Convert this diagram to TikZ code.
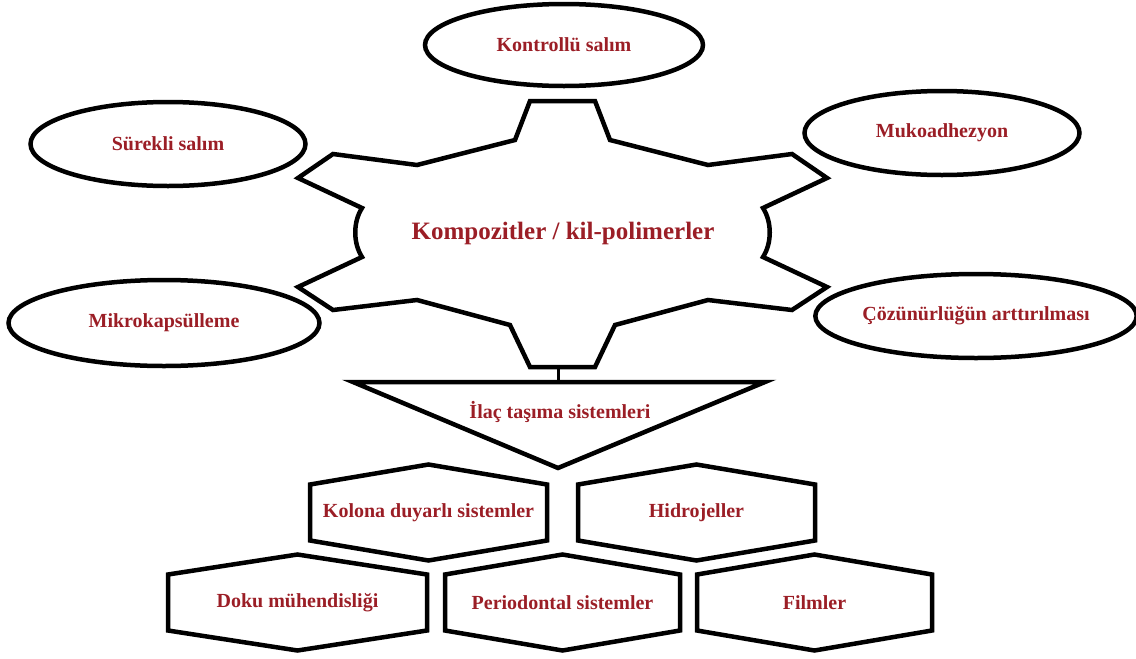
\documentclass[tikz,border=0pt]{standalone}
\usepackage{fontspec}
\setmainfont{Liberation Serif}
\usetikzlibrary{shapes.geometric}
\definecolor{labelred}{RGB}{155,30,38}

\begin{document}
\begin{tikzpicture}[x=1pt,y=-1pt]
	\tikzset{bubble/.style = {shape=ellipse,draw,line width=4.5pt,inner sep=0pt}}
	\tikzset{lbl/.style = {text=labelred,font=\bfseries\fontsize{20}{22}\selectfont}}
	\tikzset{outline/.style = {line width=4.5pt}}
	\tikzset{link/.style = {line width=3pt}}

	\useasboundingbox (0,0) rectangle (1136,659);

	% gear
	\draw[outline] (530,101) -- (595,101) -- (610,140) -- (708,165) -- (792,154)
		-- (827,178) -- (763,208) .. controls (772,222) and (772,243) .. (763,257)
		-- (827,287) -- (792,310) -- (708,300) -- (615,325) -- (595,367)
		-- (530,367) -- (510,325) -- (417,300) -- (333,310) -- (298,287)
		-- (362,257) .. controls (353,243) and (353,222) .. (362,208)
		-- (298,178) -- (333,154) -- (417,165) -- (515,140) -- cycle;
	\node[lbl,font=\bfseries\fontsize{25}{28}\selectfont] (gear) at (563,233) {Kompozitler / kil-polimerler};

	% bubbles round the gear
	\node[bubble,lbl,minimum width=278pt,minimum height=82pt] (kontrol) at (564,45) {Kontrollü salım};
	\node[bubble,lbl,minimum width=275pt,minimum height=84pt] (surekli) at (168,144) {Sürekli salım};
	\node[bubble,lbl,minimum width=275pt,minimum height=84pt] (muko) at (942,133) {Mukoadhezyon};
	\node[bubble,lbl,minimum width=311pt,minimum height=86pt] (mikro) at (164,323) {Mikrokapsülleme};
	\node[bubble,lbl,minimum width=298pt,minimum height=84pt] (cozun) at (976,316) {Çözünürlüğün arttırılması};

	% triangle
	\coordinate (gearbot) at (558,367);
	\coordinate (tritop) at (558,382);
	\draw[outline] (353,382) -- (765,382) -- (558,468) -- cycle;
	\node[lbl] (ilac) at (560,412) {İlaç taşıma sistemleri};
	\draw[link] (gearbot) -- (tritop);

	% hexagons
	\foreach \name/\x/\y/\w/\txt in {kolona/428.5/512.5/118.5/Kolona duyarlı sistemler,
		hidro/696.5/512.5/118.5/Hidrojeller,
		doku/297.5/602.5/129.5/Doku mühendisliği,
		perio/562.5/602.5/117.5/Periodontal sistemler,
		film/814.5/602.5/117.5/Filmler}{
		\draw[outline] (\x-\w,\y-28) -- (\x,\y-48) -- (\x+\w,\y-28)
			-- (\x+\w,\y+28) -- (\x,\y+48) -- (\x-\w,\y+28) -- cycle;
		\node[lbl] (\name) at (\x,\y) {\txt};
	}
\end{tikzpicture}
\end{document}
